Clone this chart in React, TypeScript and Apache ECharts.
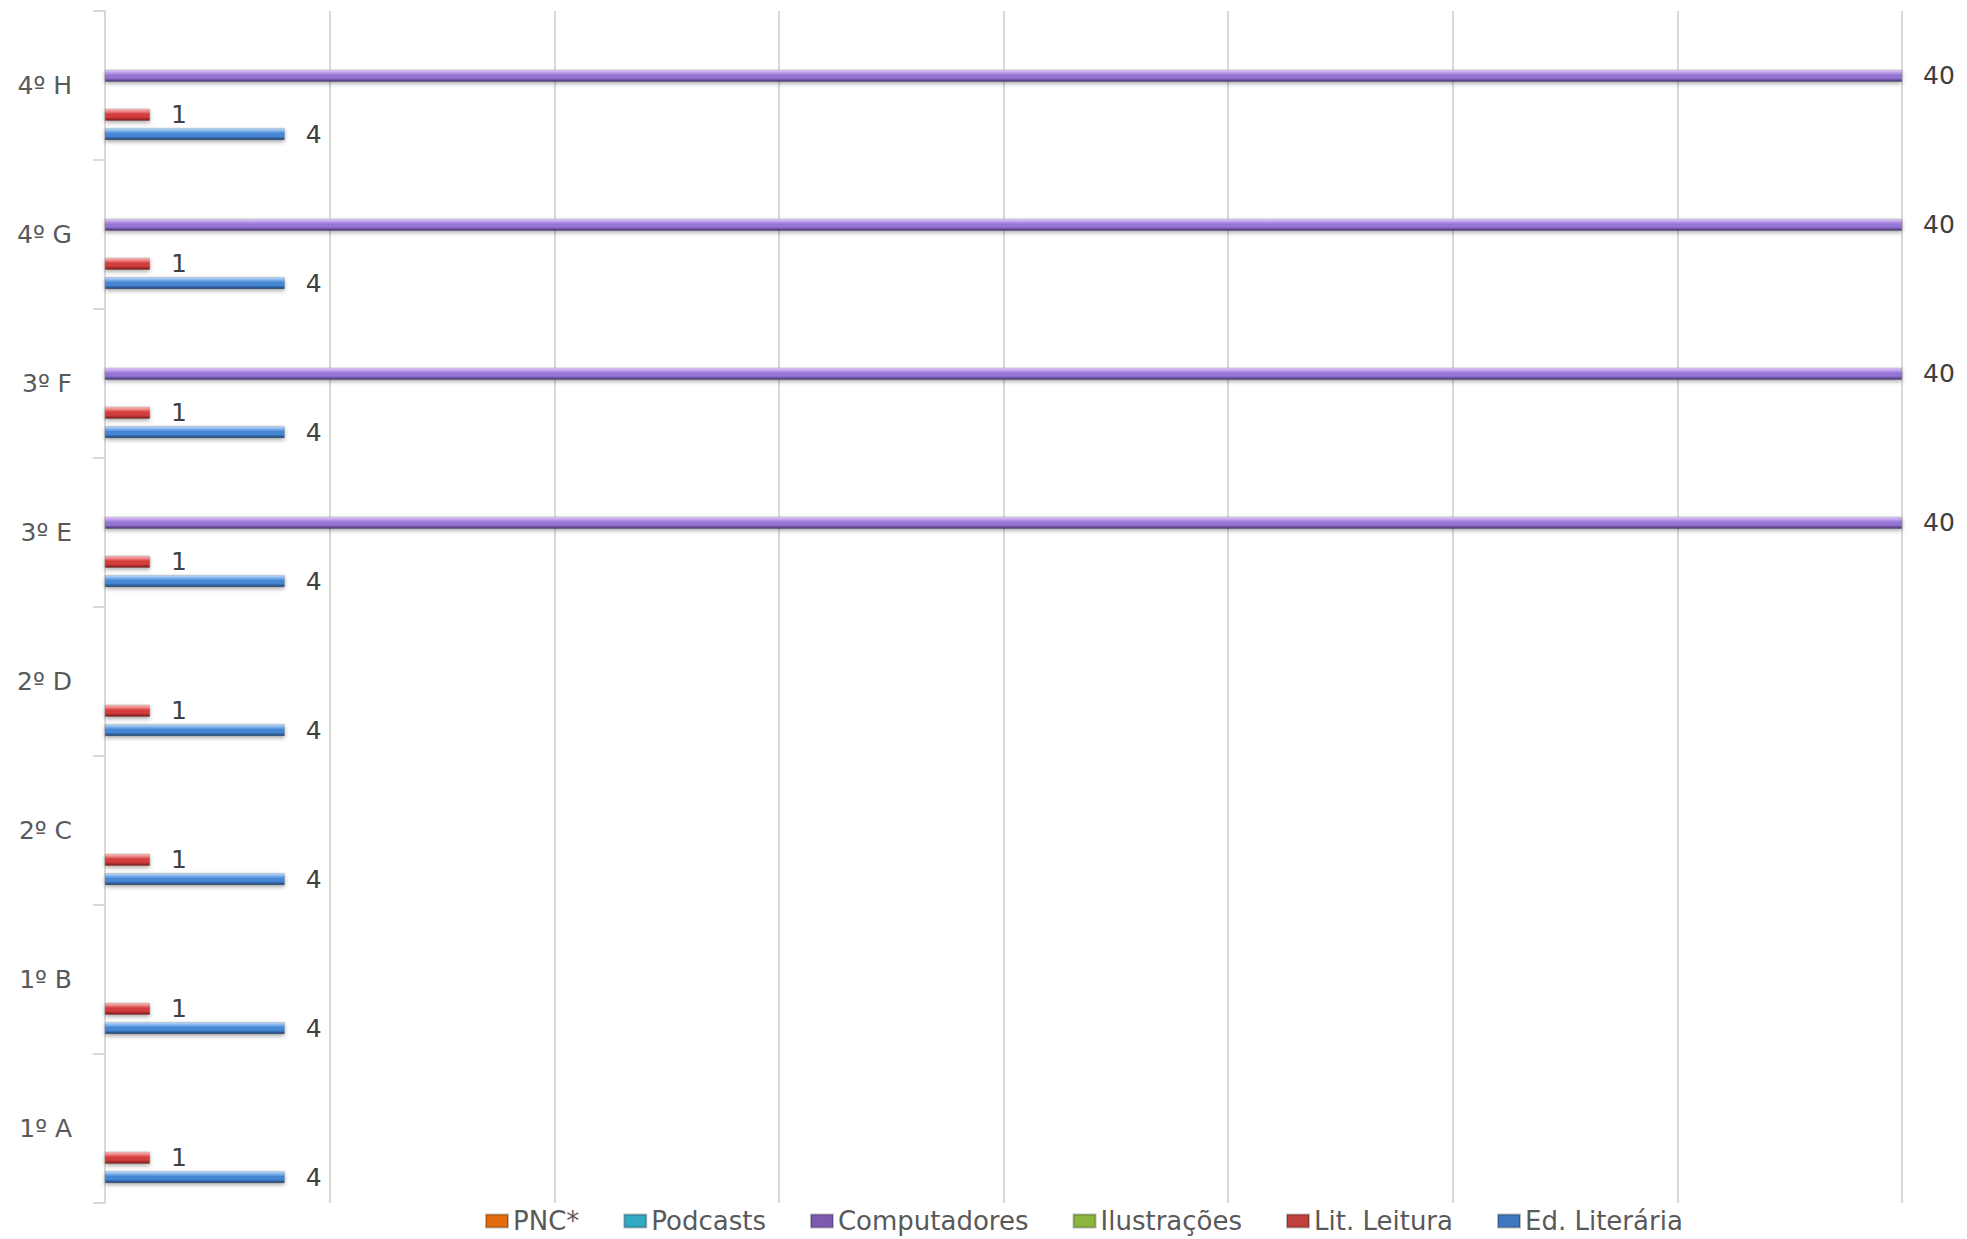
import React, { useEffect, useRef } from "react";
import * as echarts from "echarts";

const categories = ["1º A", "1º B", "2º C", "2º D", "3º E", "3º F", "4º G", "4º H"];
const edLiteraria = [4, 4, 4, 4, 4, 4, 4, 4];
const litLeitura = [1, 1, 1, 1, 1, 1, 1, 1];
const ilustracoes = [null, null, null, null, null, null, null, null];
const computadores = [null, null, null, null, 40, 40, 40, 40];
const podcasts = [null, null, null, null, null, null, null, null];
const pnc = [null, null, null, null, null, null, null, null];

const legendOrder = ["PNC*", "Podcasts", "Computadores", "Ilustrações", "Lit. Leitura", "Ed. Literária"];

function grad(top: string, light: string, mid: string, dark: string) {
  return new echarts.graphic.LinearGradient(0, 0, 0, 1, [
    { offset: 0, color: light },
    { offset: 0.2, color: top },
    { offset: 0.45, color: mid },
    { offset: 0.7, color: mid },
    { offset: 1, color: dark },
  ]);
}

export default function App() {
  const ref = useRef<HTMLDivElement>(null);
  useEffect(() => {
    document.body.style.margin = "0";
    const chart = echarts.init(ref.current!, null, { renderer: "svg" });
    const labelStyle = {
      show: true,
      position: "right",
      distance: 21,
      color: "#404040",
      fontSize: 25,
      fontFamily: "DejaVu Sans",
    };
    const mk = (name: string, data: any[], color: any, legendColor: string) => ({
      name,
      type: "bar",
      data,
      barWidth: 12,
      barGap: "62%",
      itemStyle: {
        color,
        borderColor: "rgba(0,0,0,0.25)",
        borderWidth: 0.5,
        shadowBlur: 4,
        shadowColor: "rgba(0,0,0,0.35)",
        shadowOffsetY: 2,
      },
      label: labelStyle,
      _legendColor: legendColor,
    });
    // ECharts lays out horizontal-bar series from top to bottom, so the
    // top-most series (PNC*) comes first.
    const series = [
      mk("PNC*", pnc, grad("#f7b26c", "#fbd3a8", "#e8761a", "#8a4207"), "#e46c0a"),
      mk("Podcasts", podcasts, grad("#8fdcec", "#c6eef6", "#35b3cf", "#186577"), "#31a9c5"),
      mk("Computadores", computadores, grad("#c3a2ec", "#e2d0f8", "#9474d3", "#45306e"), "#7d5ab0"),
      mk("Ilustrações", ilustracoes, grad("#c9e28a", "#e4f1c4", "#92bb45", "#4f6a1c"), "#8db43c"),
      mk("Lit. Leitura", litLeitura, grad("#f08a8a", "#f9c4c4", "#d43c3c", "#7f1c1c"), "#c0403d"),
      mk("Ed. Literária", edLiteraria, grad("#86b8ef", "#c3dcf7", "#4686d4", "#1c3c6a"), "#3f78c0"),
    ];
    chart.setOption({
      animation: false,
      backgroundColor: "#ffffff",
      grid: { left: 105, right: 65, top: 11, bottom: 36, containLabel: false },
      legend: {
        bottom: 0,
        left: 480,
        itemWidth: 22,
        itemHeight: 13,
        itemGap: 44,
        icon: "rect",
        textStyle: { color: "#595959", fontSize: 26, fontFamily: "DejaVu Sans" },
        data: legendOrder.map((n) => {
          const s: any = series.find((x) => x.name === n);
          return { name: n, itemStyle: { color: s._legendColor } };
        }),
      },
      xAxis: {
        type: "value",
        min: 0,
        max: 40,
        interval: 5,
        axisLabel: { show: false },
        axisLine: { show: false },
        axisTick: { show: false },
        splitLine: { lineStyle: { color: "#d9d9d9", width: 2 } },
      },
      yAxis: {
        type: "category",
        data: categories,
        axisLine: { show: true, lineStyle: { color: "#d9d9d9", width: 2 } },
        axisTick: { show: true, length: 12, lineStyle: { color: "#d9d9d9", width: 2 } },
        axisLabel: { color: "#595959", fontSize: 25, fontFamily: "DejaVu Sans", margin: 33 },
      },
      series: series.map(({ _legendColor, ...rest }: any) => rest),
    });
    return () => chart.dispose();
  }, []);
  return (
    <div
      ref={ref}
      style={{ position: "absolute", left: 0, top: 0, width: 1967, height: 1239 }}
    />
  );
}
